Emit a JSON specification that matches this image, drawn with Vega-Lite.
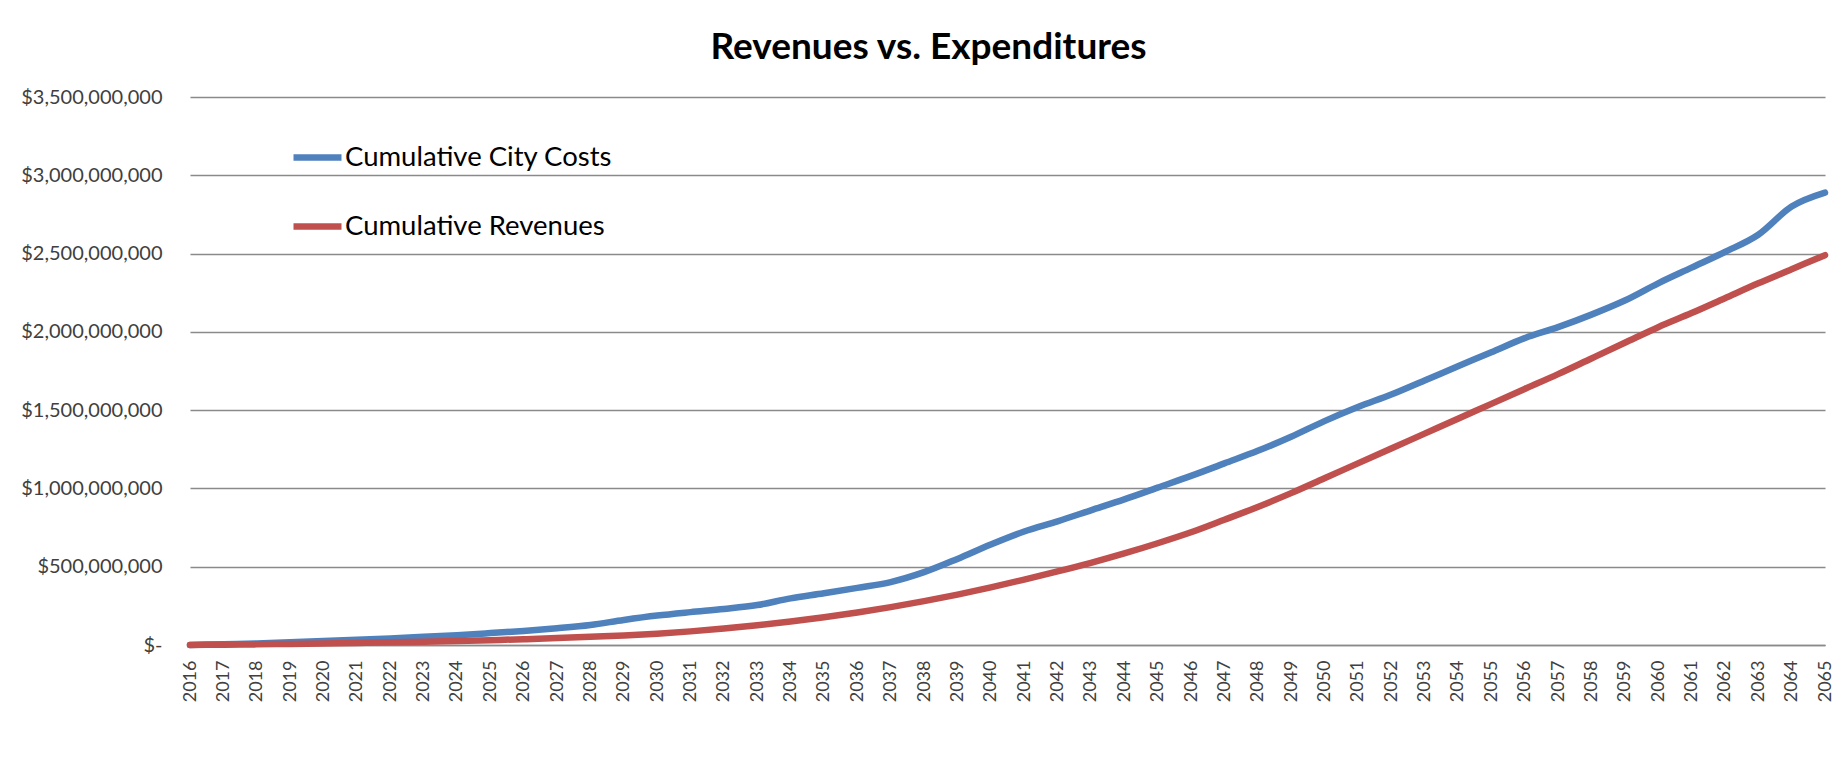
{
  "$schema": "https://vega.github.io/schema/vega-lite/v6.json",
  "width": 1635,
  "height": 548,
  "autosize": {"type": "none"},
  "padding": {"left": 190, "top": 97, "right": 22, "bottom": 135},
  "background": "white",
  "title": {
    "text": "Revenues vs. Expenditures",
    "font": "Lato",
    "fontSize": 37,
    "fontWeight": "bold",
    "color": "#000000",
    "anchor": "middle",
    "baseline": "alphabetic",
    "offset": 34,
    "dx": -79,
    "dy": 43
  },
  "data": {"values": [
    {"year": "2016", "series": "Cumulative City Costs", "value": 0},
    {"year": "2017", "series": "Cumulative City Costs", "value": 5000000},
    {"year": "2018", "series": "Cumulative City Costs", "value": 10000000},
    {"year": "2019", "series": "Cumulative City Costs", "value": 17000000},
    {"year": "2020", "series": "Cumulative City Costs", "value": 25000000},
    {"year": "2021", "series": "Cumulative City Costs", "value": 33000000},
    {"year": "2022", "series": "Cumulative City Costs", "value": 42000000},
    {"year": "2023", "series": "Cumulative City Costs", "value": 52000000},
    {"year": "2024", "series": "Cumulative City Costs", "value": 63000000},
    {"year": "2025", "series": "Cumulative City Costs", "value": 76000000},
    {"year": "2026", "series": "Cumulative City Costs", "value": 90000000},
    {"year": "2027", "series": "Cumulative City Costs", "value": 107000000},
    {"year": "2028", "series": "Cumulative City Costs", "value": 128000000},
    {"year": "2029", "series": "Cumulative City Costs", "value": 160000000},
    {"year": "2030", "series": "Cumulative City Costs", "value": 188000000},
    {"year": "2031", "series": "Cumulative City Costs", "value": 210000000},
    {"year": "2032", "series": "Cumulative City Costs", "value": 230000000},
    {"year": "2033", "series": "Cumulative City Costs", "value": 255000000},
    {"year": "2034", "series": "Cumulative City Costs", "value": 298000000},
    {"year": "2035", "series": "Cumulative City Costs", "value": 330000000},
    {"year": "2036", "series": "Cumulative City Costs", "value": 365000000},
    {"year": "2037", "series": "Cumulative City Costs", "value": 402000000},
    {"year": "2038", "series": "Cumulative City Costs", "value": 465000000},
    {"year": "2039", "series": "Cumulative City Costs", "value": 550000000},
    {"year": "2040", "series": "Cumulative City Costs", "value": 642000000},
    {"year": "2041", "series": "Cumulative City Costs", "value": 725000000},
    {"year": "2042", "series": "Cumulative City Costs", "value": 790000000},
    {"year": "2043", "series": "Cumulative City Costs", "value": 860000000},
    {"year": "2044", "series": "Cumulative City Costs", "value": 930000000},
    {"year": "2045", "series": "Cumulative City Costs", "value": 1005000000},
    {"year": "2046", "series": "Cumulative City Costs", "value": 1080000000},
    {"year": "2047", "series": "Cumulative City Costs", "value": 1160000000},
    {"year": "2048", "series": "Cumulative City Costs", "value": 1240000000},
    {"year": "2049", "series": "Cumulative City Costs", "value": 1330000000},
    {"year": "2050", "series": "Cumulative City Costs", "value": 1430000000},
    {"year": "2051", "series": "Cumulative City Costs", "value": 1520000000},
    {"year": "2052", "series": "Cumulative City Costs", "value": 1600000000},
    {"year": "2053", "series": "Cumulative City Costs", "value": 1690000000},
    {"year": "2054", "series": "Cumulative City Costs", "value": 1780000000},
    {"year": "2055", "series": "Cumulative City Costs", "value": 1870000000},
    {"year": "2056", "series": "Cumulative City Costs", "value": 1960000000},
    {"year": "2057", "series": "Cumulative City Costs", "value": 2030000000},
    {"year": "2058", "series": "Cumulative City Costs", "value": 2110000000},
    {"year": "2059", "series": "Cumulative City Costs", "value": 2200000000},
    {"year": "2060", "series": "Cumulative City Costs", "value": 2310000000},
    {"year": "2061", "series": "Cumulative City Costs", "value": 2410000000},
    {"year": "2062", "series": "Cumulative City Costs", "value": 2510000000},
    {"year": "2063", "series": "Cumulative City Costs", "value": 2620000000},
    {"year": "2064", "series": "Cumulative City Costs", "value": 2800000000},
    {"year": "2065", "series": "Cumulative City Costs", "value": 2889000000},
    {"year": "2016", "series": "Cumulative Revenues", "value": 0},
    {"year": "2017", "series": "Cumulative Revenues", "value": 2000000},
    {"year": "2018", "series": "Cumulative Revenues", "value": 4000000},
    {"year": "2019", "series": "Cumulative Revenues", "value": 7000000},
    {"year": "2020", "series": "Cumulative Revenues", "value": 10000000},
    {"year": "2021", "series": "Cumulative Revenues", "value": 13000000},
    {"year": "2022", "series": "Cumulative Revenues", "value": 17000000},
    {"year": "2023", "series": "Cumulative Revenues", "value": 21000000},
    {"year": "2024", "series": "Cumulative Revenues", "value": 26000000},
    {"year": "2025", "series": "Cumulative Revenues", "value": 31000000},
    {"year": "2026", "series": "Cumulative Revenues", "value": 37000000},
    {"year": "2027", "series": "Cumulative Revenues", "value": 44000000},
    {"year": "2028", "series": "Cumulative Revenues", "value": 52000000},
    {"year": "2029", "series": "Cumulative Revenues", "value": 61000000},
    {"year": "2030", "series": "Cumulative Revenues", "value": 72000000},
    {"year": "2031", "series": "Cumulative Revenues", "value": 87000000},
    {"year": "2032", "series": "Cumulative Revenues", "value": 105000000},
    {"year": "2033", "series": "Cumulative Revenues", "value": 126000000},
    {"year": "2034", "series": "Cumulative Revenues", "value": 150000000},
    {"year": "2035", "series": "Cumulative Revenues", "value": 177000000},
    {"year": "2036", "series": "Cumulative Revenues", "value": 208000000},
    {"year": "2037", "series": "Cumulative Revenues", "value": 242000000},
    {"year": "2038", "series": "Cumulative Revenues", "value": 280000000},
    {"year": "2039", "series": "Cumulative Revenues", "value": 322000000},
    {"year": "2040", "series": "Cumulative Revenues", "value": 368000000},
    {"year": "2041", "series": "Cumulative Revenues", "value": 418000000},
    {"year": "2042", "series": "Cumulative Revenues", "value": 470000000},
    {"year": "2043", "series": "Cumulative Revenues", "value": 525000000},
    {"year": "2044", "series": "Cumulative Revenues", "value": 585000000},
    {"year": "2045", "series": "Cumulative Revenues", "value": 650000000},
    {"year": "2046", "series": "Cumulative Revenues", "value": 720000000},
    {"year": "2047", "series": "Cumulative Revenues", "value": 800000000},
    {"year": "2048", "series": "Cumulative Revenues", "value": 882000000},
    {"year": "2049", "series": "Cumulative Revenues", "value": 970000000},
    {"year": "2050", "series": "Cumulative Revenues", "value": 1065000000},
    {"year": "2051", "series": "Cumulative Revenues", "value": 1160000000},
    {"year": "2052", "series": "Cumulative Revenues", "value": 1255000000},
    {"year": "2053", "series": "Cumulative Revenues", "value": 1350000000},
    {"year": "2054", "series": "Cumulative Revenues", "value": 1445000000},
    {"year": "2055", "series": "Cumulative Revenues", "value": 1540000000},
    {"year": "2056", "series": "Cumulative Revenues", "value": 1635000000},
    {"year": "2057", "series": "Cumulative Revenues", "value": 1730000000},
    {"year": "2058", "series": "Cumulative Revenues", "value": 1830000000},
    {"year": "2059", "series": "Cumulative Revenues", "value": 1930000000},
    {"year": "2060", "series": "Cumulative Revenues", "value": 2030000000},
    {"year": "2061", "series": "Cumulative Revenues", "value": 2120000000},
    {"year": "2062", "series": "Cumulative Revenues", "value": 2215000000},
    {"year": "2063", "series": "Cumulative Revenues", "value": 2310000000},
    {"year": "2064", "series": "Cumulative Revenues", "value": 2400000000},
    {"year": "2065", "series": "Cumulative Revenues", "value": 2490000000}
  ]},
  "mark": {"type": "line", "strokeWidth": 6.5, "interpolate": "monotone", "strokeCap": "round", "strokeJoin": "round"},
  "encoding": {
    "x": {
      "field": "year",
      "type": "ordinal",
      "scale": {"type": "point", "padding": 0},
      "axis": {
        "title": null,
        "labelAngle": 270,
        "labelFont": "Lato",
        "labelFontSize": 18,
        "labelColor": "#404040",
        "labelPadding": 15,
        "ticks": false,
        "domain": true,
        "domainColor": "#8a8a8a",
        "domainWidth": 1.5,
        "grid": false
      }
    },
    "y": {
      "field": "value",
      "type": "quantitative",
      "scale": {"domain": [0, 3500000000], "nice": false},
      "axis": {
        "title": null,
        "values": [0, 500000000, 1000000000, 1500000000, 2000000000, 2500000000, 3000000000, 3500000000],
        "labelExpr": "datum.value == 0 ? '$-' : '$' + format(datum.value, ',')",
        "labelFont": "Lato",
        "labelFontSize": 20,
        "labelColor": "#404040",
        "labelPadding": 28,
        "ticks": false,
        "domain": false,
        "grid": true,
        "gridColor": "#8a8a8a",
        "gridWidth": 1.5
      }
    },
    "color": {
      "field": "series",
      "type": "nominal",
      "scale": {"domain": ["Cumulative City Costs", "Cumulative Revenues"], "range": ["#4F81BD", "#C0504D"]},
      "legend": {
        "title": null,
        "orient": "none",
        "legendX": 100,
        "legendY": 33,
        "symbolType": "stroke",
        "symbolSize": 2304,
        "symbolStrokeWidth": 6.5,
        "labelFont": "Lato",
        "labelFontSize": 27.5,
        "labelColor": "#000000",
        "labelOffset": 0,
        "labelLimit": 500,
        "rowPadding": 28,
        "padding": 0
      }
    }
  },
  "config": {"view": {"stroke": null}}
}
